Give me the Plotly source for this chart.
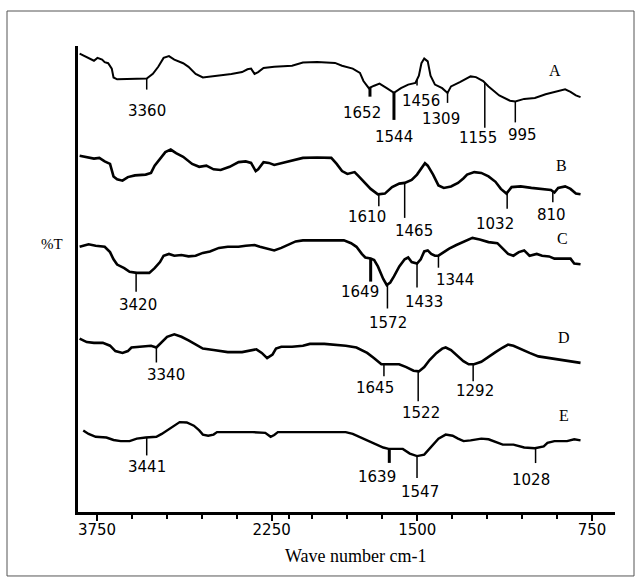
import numpy as np
import plotly.graph_objects as go

# ---------------- data (wavenumber cm-1, %T in arbitrary stacked units) ----------------
spec_A = [(3899, 458.4), (3853, 456.0), (3807, 453.4), (3776, 451.3), (3746, 454.1), (3706, 452.4),
          (3684, 449.9), (3654, 448.8), (3623, 443.4), (3608, 434.5), (3577, 432.7), (3454, 432.7),
          (3362, 432.7), (3323, 433.4), (3270, 438.1), (3224, 445.2), (3178, 454.1), (3132, 455.9),
          (3086, 452.4), (3010, 448.8), (2964, 445.2), (2903, 438.1), (2841, 434.5), (2749, 435.6),
          (2688, 436.3), (2596, 438.1), (2504, 439.9), (2458, 442.7), (2427, 443.4), (2397, 438.1),
          (2366, 439.9), (2320, 444.1), (2228, 445.2), (2075, 446.3), (1991, 449.5), (1930, 449.9),
          (1853, 449.1), (1823, 446.3), (1777, 443.4), (1746, 439.1), (1731, 431.0), (1708, 423.8),
          (1685, 426.3), (1662, 428.4), (1631, 423.8), (1600, 419.1), (1570, 423.8), (1539, 427.4),
          (1508, 429.1), (1493, 436.3), (1482, 448.8), (1470, 453.4), (1455, 450.6), (1443, 436.3),
          (1424, 427.4), (1393, 423.8), (1370, 419.1), (1355, 425.6), (1317, 429.9), (1271, 435.6),
          (1248, 434.9), (1217, 430.9), (1194, 425.6), (1148, 416.6), (1102, 411.3), (1079, 410.6),
          (1041, 413.1), (995, 414.1), (949, 417.7), (903, 420.2), (865, 422.7), (842, 420.2),
          (819, 416.6), (799, 414.9)]

spec_B = [(3899, 356.3), (3838, 355.2), (3776, 353.4), (3730, 354.1), (3684, 350.6), (3638, 348.1),
          (3608, 335.6), (3577, 332.7), (3531, 331.3), (3485, 334.9), (3424, 336.6), (3332, 337.4),
          (3286, 339.1), (3255, 346.3), (3209, 353.4), (3163, 359.9), (3117, 362.4), (3071, 358.8),
          (3010, 355.2), (2933, 348.1), (2872, 345.2), (2811, 346.3), (2749, 342.7), (2688, 342.0),
          (2611, 345.2), (2534, 349.9), (2473, 350.6), (2427, 349.1), (2387, 340.9), (2366, 342.7),
          (2320, 349.9), (2274, 349.1), (2228, 347.0), (2151, 349.1), (2075, 351.6), (1991, 354.1),
          (1930, 354.5), (1869, 354.1), (1846, 348.1), (1823, 340.9), (1800, 338.1), (1769, 339.9),
          (1754, 336.3), (1731, 330.2), (1700, 323.1), (1669, 317.7), (1639, 318.4), (1608, 324.9),
          (1577, 328.4), (1554, 329.1), (1524, 332.0), (1501, 337.4), (1482, 343.4), (1467, 348.8),
          (1455, 346.3), (1432, 337.4), (1409, 326.6), (1386, 324.1), (1355, 325.6), (1325, 329.1),
          (1301, 333.8), (1286, 337.4), (1255, 339.9), (1225, 339.1), (1194, 335.6), (1164, 330.2),
          (1141, 323.1), (1117, 318.4), (1095, 324.9), (1056, 325.6), (1010, 324.1), (964, 323.1),
          (926, 322.0), (911, 319.5), (895, 324.1), (865, 325.6), (842, 323.1), (819, 318.4),
          (799, 317.7)]

spec_C = [(3899, 265.2), (3822, 267.7), (3761, 266.3), (3684, 265.2), (3638, 259.9), (3608, 252.7),
          (3577, 247.4), (3516, 243.8), (3470, 240.2), (3408, 239.1), (3301, 239.1), (3255, 243.8),
          (3209, 249.9), (3178, 256.3), (3132, 258.1), (3086, 256.3), (3025, 257.0), (2964, 255.6),
          (2903, 256.3), (2841, 259.1), (2780, 260.6), (2703, 264.1), (2627, 265.2), (2535, 265.2),
          (2473, 266.3), (2397, 267.0), (2351, 265.2), (2274, 262.7), (2228, 261.6), (2167, 264.1),
          (2105, 267.7), (2044, 270.6), (1991, 271.6), (1930, 271.6), (1869, 271.6), (1815, 271.6),
          (1784, 268.8), (1761, 265.2), (1738, 258.1), (1723, 254.5), (1700, 253.4), (1685, 252.0),
          (1669, 245.6), (1646, 233.1), (1631, 227.0), (1616, 229.5), (1600, 235.6), (1577, 245.6),
          (1554, 252.7), (1539, 254.5), (1524, 249.9), (1501, 248.4), (1485, 252.7), (1470, 260.6),
          (1455, 261.6), (1440, 258.1), (1424, 256.3), (1409, 256.3), (1386, 259.9), (1363, 263.4),
          (1332, 267.0), (1301, 269.9), (1263, 274.1), (1232, 272.4), (1194, 269.9), (1156, 268.8),
          (1133, 263.4), (1110, 258.1), (1087, 256.3), (1064, 259.9), (1041, 261.6), (1018, 256.3),
          (987, 258.1), (964, 256.3), (934, 255.6), (911, 253.4), (842, 253.4), (826, 248.4),
          (799, 247.7)]

spec_D = [(3899, 173.4), (3838, 169.9), (3776, 169.1), (3700, 169.1), (3638, 166.3), (3592, 160.9),
          (3531, 159.1), (3485, 160.9), (3454, 164.5), (3362, 165.6), (3286, 166.3), (3240, 164.5),
          (3194, 169.9), (3148, 175.2), (3086, 177.7), (3025, 175.2), (2964, 171.6), (2887, 166.3),
          (2841, 163.4), (2749, 162.0), (2627, 159.9), (2504, 159.9), (2427, 162.0), (2381, 162.7),
          (2335, 159.1), (2289, 153.8), (2243, 157.4), (2213, 163.4), (2167, 165.2), (2075, 165.2),
          (1991, 166.3), (1961, 168.1), (1899, 168.1), (1838, 167.4), (1807, 166.3), (1761, 164.5),
          (1715, 159.1), (1685, 153.8), (1654, 147.7), (1623, 147.7), (1578, 147.7), (1547, 144.9),
          (1516, 141.3), (1493, 140.6), (1470, 144.9), (1447, 152.0), (1417, 159.1), (1393, 163.4),
          (1378, 164.5), (1355, 162.0), (1332, 157.4), (1302, 150.9), (1279, 147.7), (1256, 147.7),
          (1225, 150.2), (1194, 155.6), (1164, 159.9), (1133, 164.5), (1110, 167.4), (1087, 166.3),
          (1056, 162.7), (1018, 159.1), (980, 155.6), (934, 153.8), (888, 152.7), (857, 151.3),
          (826, 150.2), (799, 149.1)]

spec_E = [(3868, 81.6), (3822, 78.1), (3761, 75.2), (3669, 74.5), (3608, 72.0), (3546, 70.9),
          (3470, 70.9), (3408, 73.4), (3332, 74.5), (3240, 75.2), (3194, 78.1), (3148, 81.6),
          (3086, 87.0), (3040, 89.9), (2979, 89.5), (2918, 86.3), (2872, 81.6), (2841, 77.4),
          (2795, 76.3), (2749, 77.4), (2719, 79.9), (2596, 79.9), (2412, 79.9), (2305, 79.1),
          (2259, 75.2), (2228, 77.0), (2197, 79.9), (2075, 79.9), (1961, 79.9), (1869, 79.9),
          (1807, 79.9), (1777, 78.1), (1731, 73.4), (1685, 69.1), (1646, 64.5), (1623, 63.1),
          (1562, 63.1), (1532, 58.4), (1501, 55.9), (1470, 57.4), (1440, 65.6), (1409, 73.4),
          (1378, 77.4), (1348, 76.3), (1325, 73.4), (1301, 70.9), (1271, 71.6), (1225, 73.4),
          (1194, 72.7), (1164, 69.9), (1133, 67.4), (1087, 67.4), (1041, 64.5), (995, 63.8),
          (957, 65.6), (941, 69.1), (911, 70.9), (857, 70.9), (826, 72.7), (799, 71.6)]

series_names = ["A", "B", "C", "D", "E"]

# peak annotations: label text, position on the drawn axis (cm-1)
peaks_A = [("3360", 3323), ("1652", 1703), ("1544", 1600), ("1456", 1501), ("1309", 1370), ("1155", 1210), ("995", 1079)]
peaks_B = [("1610", 1665), ("1465", 1554), ("1032", 1114), ("810", 918)]
peaks_C = [("3420", 3414), ("1649", 1700), ("1572", 1628), ("1433", 1501), ("1344", 1409)]
peaks_D = [("3340", 3240), ("1645", 1643), ("1522", 1496), ("1292", 1260)]
peaks_E = [("3441", 3323), ("1639", 1620), ("1547", 1501), ("1028", 992)]

major_ticks = [3750, 2250, 1500, 750]
minor_ticks = [3450, 3150, 2850, 2550, 2100, 1950, 1800, 1650, 1350, 1200, 1050, 900]
x_range_wn = [3913, 651]

# ---------------- layout / style (not data) ----------------
# per-peak: (tick length px, label dx px, label dy px, tick width)
peak_style = {
    "A": [(11, 0, 32, 1.5), (9, -8, 25, 3), (27, 0, 44, 3), (6, 4, 21, 1.5), (10, -7, 26, 1.5), (45, -7, 55, 1.5), (21, 7, 34, 1.5)],
    "B": [(12, -12, 23, 1.5), (35, 9, 48, 1.5), (16, -12, 31, 1.5), (11, -1, 24, 1.5)],
    "C": [(19, 2, 32, 1.5), (23, -11, 33, 3), (24, 1, 38, 1.5), (24, 7, 38, 1.5), (12, 17, 24, 1.5)],
    "D": [(15, 10, 27, 1.5), (12, -9, 24, 1.5), (30, 3, 42, 1.5), (17, 2, 27, 1.5)],
    "E": [(18, 0, 30, 1.5), (14, -12, 28, 3), (22, 3, 36, 1.5), (15, -5, 32, 1.5)],
}
letter_pos = {"A": (910, 441.6), "B": (882, 346.3), "C": (878, 273.4), "D": (871, 174.1), "E": (871, 97.0)}


def to_u(wn):
    """Split FTIR scale: expanded x2 below 2000 cm-1."""
    wn = np.asarray(wn, dtype=float)
    return np.where(wn >= 2000, wn, 2 * wn - 2000)


all_specs = {"A": spec_A, "B": spec_B, "C": spec_C, "D": spec_D, "E": spec_E}
all_peaks = {"A": peaks_A, "B": peaks_B, "C": peaks_C, "D": peaks_D, "E": peaks_E}
line_w = {"A": 2.0, "B": 2.6, "C": 2.6, "D": 2.6, "E": 2.4}

fig = go.Figure()
shapes = []
annotations = []
num_font = dict(family="DejaVu Sans", size=15, color="black")
serif = "Liberation Serif"

for name in series_names:
    sp = all_specs[name]
    wn = np.array([p[0] for p in sp], dtype=float)
    t = np.array([p[1] for p in sp], dtype=float)
    fig.add_trace(go.Scatter(x=to_u(wn), y=t, mode="lines",
                             line=dict(color="black", width=line_w[name]),
                             showlegend=False, hoverinfo="skip"))
    for (lbl, pos), (L, dx, dy, tw) in zip(all_peaks[name], peak_style[name]):
        yv = float(np.interp(pos, wn[::-1], t[::-1]))
        xu = float(to_u(pos))
        shapes.append(dict(type="line", xref="x", yref="y", x0=xu, x1=xu, y0=yv, y1=yv - L,
                           line=dict(color="black", width=tw)))
        annotations.append(dict(x=xu, y=yv, xref="x", yref="y", text=lbl, showarrow=False,
                                xshift=dx, yshift=-dy, font=num_font,
                                xanchor="center", yanchor="middle"))
    lx, ly = letter_pos[name]
    annotations.append(dict(x=float(to_u(lx)), y=ly, xref="x", yref="y",
                            text=name, showarrow=False, xanchor="center", yanchor="middle",
                            font=dict(family=serif, size=16, color="black")))

annotations.append(dict(x=-0.049, y=0.575, xref="paper", yref="paper", text="%T", showarrow=False,
                        xanchor="center", yanchor="middle",
                        font=dict(family=serif, size=15, color="black")))
annotations.append(dict(x=0.5177, y=-0.0944, xref="paper", yref="paper", text="Wave number cm-1",
                        showarrow=False, xanchor="center", yanchor="middle",
                        font=dict(family=serif, size=18, color="black")))

shapes.append(dict(type="rect", xref="paper", yref="paper", x0=-0.1322, x1=1.0354, y0=-0.1373, y1=1.0751,
                   line=dict(color="#555555", width=1), layer="below"))

fig.update_layout(
    width=640, height=582, autosize=False,
    margin=dict(l=78, r=25, t=46, b=70),
    paper_bgcolor="white", plot_bgcolor="white",
    shapes=shapes, annotations=annotations,
    xaxis=dict(range=list(to_u(x_range_wn)), showline=True, linewidth=3, linecolor="black",
               ticks="outside", ticklen=6, tickwidth=2, tickcolor="black",
               tickvals=list(to_u(major_ticks)), ticktext=[str(v) for v in major_ticks],
               tickfont=num_font, showgrid=False, zeroline=False, ticklabelstandoff=-4,
               minor=dict(tickvals=list(to_u(minor_ticks)), ticks="outside", ticklen=4,
                          tickwidth=2, tickcolor="black", showgrid=False)),
    yaxis=dict(range=[0, 466], showline=True, linewidth=3, linecolor="black",
               ticks="", showticklabels=False, showgrid=False, zeroline=False),
)

fig.write_html("out.html")
